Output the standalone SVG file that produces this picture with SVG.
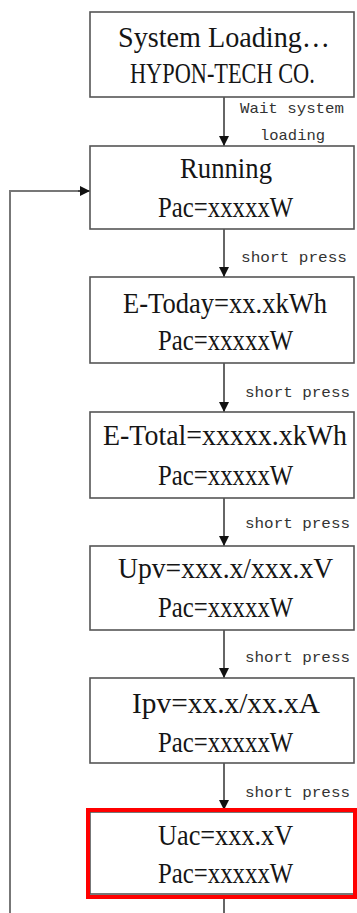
<svg xmlns="http://www.w3.org/2000/svg" width="357" height="913" viewBox="0 0 357 913">
<style>
.box{fill:#fff;stroke:#555;stroke-width:1.6}
.red{fill:none;stroke:#f00;stroke-width:4}
.t{font-family:"Liberation Serif","DejaVu Serif",serif;font-size:30px;fill:#151515}
.l{font-family:"Liberation Mono","DejaVu Sans Mono",monospace;font-size:15px;fill:#333}
.c{fill:none;stroke:#333;stroke-width:1.5}
.loop{fill:none;stroke:#777;stroke-width:2}
</style>
<defs>
<marker id="ah" viewBox="0 0 10 10" refX="10" refY="5" markerWidth="10" markerHeight="10" markerUnits="userSpaceOnUse" orient="auto">
<path d="M0,0 L10,5 L0,10 Z" fill="#111"/>
</marker>
</defs>
<rect width="357" height="913" fill="#fff"/>
<g id="connectors">
<line class="c" x1="224" y1="97" x2="224" y2="146" marker-end="url(#ah)"/>
<line class="c" x1="224" y1="229" x2="224" y2="277" marker-end="url(#ah)"/>
<line class="c" x1="224" y1="363" x2="224" y2="412" marker-end="url(#ah)"/>
<line class="c" x1="224" y1="498" x2="224" y2="546" marker-end="url(#ah)"/>
<line class="c" x1="224" y1="630" x2="224" y2="678" marker-end="url(#ah)"/>
<line class="c" x1="224" y1="763" x2="224" y2="810" marker-end="url(#ah)"/>
<line class="c" x1="224" y1="897" x2="224" y2="913"/>
<polyline class="loop" points="10,913 10,191 80,191"/>
<line class="c" x1="78" y1="191" x2="90" y2="191" marker-end="url(#ah)"/>
<text class="l" x="240" y="113" textLength="104" lengthAdjust="spacingAndGlyphs">Wait system</text>
<text class="l" x="260" y="140" textLength="65" lengthAdjust="spacingAndGlyphs">loading</text>
<text class="l" x="241" y="262" textLength="106" lengthAdjust="spacingAndGlyphs">short press</text>
<text class="l" x="245" y="397" textLength="105" lengthAdjust="spacingAndGlyphs">short press</text>
<text class="l" x="245" y="528" textLength="105" lengthAdjust="spacingAndGlyphs">short press</text>
<text class="l" x="245" y="662" textLength="105" lengthAdjust="spacingAndGlyphs">short press</text>
<text class="l" x="245" y="797" textLength="105" lengthAdjust="spacingAndGlyphs">short press</text>
</g>
<g id="n1">
<rect class="box" x="90" y="12" width="264" height="85"/>
<text class="t" transform="translate(118,47) scale(0.8,1)" textLength="265" lengthAdjust="spacingAndGlyphs">System Loading…</text>
<text class="t" transform="translate(130,83) scale(0.8,1)" textLength="231" lengthAdjust="spacingAndGlyphs">HYPON-TECH CO.</text>
</g>
<g id="n2">
<rect class="box" x="90" y="146" width="264" height="83"/>
<text class="t" transform="translate(180,178) scale(0.8,1)" textLength="115" lengthAdjust="spacingAndGlyphs">Running</text>
<text class="t" transform="translate(158,217) scale(0.8,1)" textLength="169" lengthAdjust="spacingAndGlyphs">Pac=xxxxxW</text>
</g>
<g id="n3">
<rect class="box" x="90" y="277" width="264" height="86"/>
<text class="t" transform="translate(123,313) scale(0.8,1)" textLength="255" lengthAdjust="spacingAndGlyphs">E-Today=xx.xkWh</text>
<text class="t" transform="translate(158,350) scale(0.8,1)" textLength="169" lengthAdjust="spacingAndGlyphs">Pac=xxxxxW</text>
</g>
<g id="n4">
<rect class="box" x="90" y="412" width="264" height="86"/>
<text class="t" transform="translate(103,445) scale(0.8,1)" textLength="305" lengthAdjust="spacingAndGlyphs">E-Total=xxxxx.xkWh</text>
<text class="t" transform="translate(158,485) scale(0.8,1)" textLength="169" lengthAdjust="spacingAndGlyphs">Pac=xxxxxW</text>
</g>
<g id="n5">
<rect class="box" x="90" y="546" width="264" height="84"/>
<text class="t" transform="translate(118,578) scale(0.8,1)" textLength="269" lengthAdjust="spacingAndGlyphs">Upv=xxx.x/xxx.xV</text>
<text class="t" transform="translate(158,617) scale(0.8,1)" textLength="169" lengthAdjust="spacingAndGlyphs">Pac=xxxxxW</text>
</g>
<g id="n6">
<rect class="box" x="90" y="678" width="264" height="85"/>
<text class="t" transform="translate(132,713) scale(0.8,1)" textLength="235" lengthAdjust="spacingAndGlyphs">Ipv=xx.x/xx.xA</text>
<text class="t" transform="translate(158,752) scale(0.8,1)" textLength="169" lengthAdjust="spacingAndGlyphs">Pac=xxxxxW</text>
</g>
<g id="n7">
<rect class="box" x="90" y="812" width="264" height="82"/>
<rect class="red" x="88" y="810" width="267" height="87"/>
<text class="t" transform="translate(158,845) scale(0.8,1)" textLength="169" lengthAdjust="spacingAndGlyphs">Uac=xxx.xV</text>
<text class="t" transform="translate(158,883) scale(0.8,1)" textLength="169" lengthAdjust="spacingAndGlyphs">Pac=xxxxxW</text>
</g>
</svg>
